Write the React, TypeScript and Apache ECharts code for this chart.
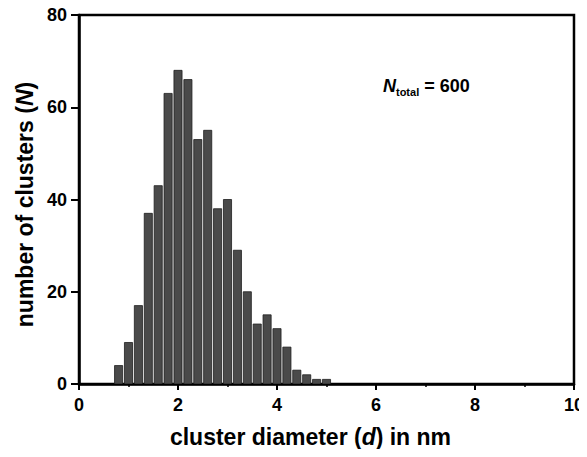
import React, { useEffect, useRef } from "react";
import * as echarts from "echarts";

// Bin centres (nm) and counts
const diameters = [0.8, 1.0, 1.2, 1.4, 1.6, 1.8, 2.0, 2.2, 2.4, 2.6, 2.8, 3.0, 3.2, 3.4, 3.6, 3.8, 4.0, 4.2, 4.4, 4.6, 4.8, 5.0];
const counts = [4, 9, 17, 37, 43, 63, 68, 66, 53, 55, 38, 40, 29, 20, 13, 15, 12, 8, 3, 2, 1, 1];
const xTicks = [0, 2, 4, 6, 8, 10];
const yTicks = [0, 20, 40, 60, 80];
const totalLabel = "600";

const FONT = '"Liberation Sans", Arial, Helvetica, sans-serif';
const HALF_BAR = 0.082;

export default function App() {
  const ref = useRef<HTMLDivElement>(null);
  useEffect(() => {
    if (!ref.current) return;
    const chart = echarts.init(ref.current, undefined, { renderer: "svg" });
    const data = diameters.map((d, i) => [d, counts[i]]);
    chart.setOption({
      animation: false,
      backgroundColor: "#fff",
      grid: {
        left: 79,
        right: 9,
        top: 15,
        bottom: 73,
        show: true,
        borderColor: "#000",
        borderWidth: 2.5,
        backgroundColor: "transparent",
      },
      xAxis: {
        type: "value",
        min: xTicks[0],
        max: xTicks[xTicks.length - 1],
        interval: 2,
        name: "{a|cluster diameter (}{b|d}{a|) in nm}",
        nameLocation: "middle",
        nameGap: 41,
        nameTextStyle: {
          padding: [0, 32, 0, 0],
          rich: {
            a: { fontFamily: FONT, fontWeight: "bold", fontSize: 23, color: "#000" },
            b: { fontFamily: FONT, fontWeight: "bold", fontStyle: "italic", fontSize: 23, color: "#000" },
          },
        },
        axisLine: { show: true, lineStyle: { color: "#000", width: 2.5 } },
        axisTick: { show: true, inside: false, length: 6, lineStyle: { color: "#000", width: 2 } },
        minorTick: { show: true, splitNumber: 2, length: 3, lineStyle: { color: "#000", width: 1.5 } },
        axisLabel: { margin: 12, fontFamily: FONT, fontWeight: "bold", fontSize: 18, color: "#000" },
        splitLine: { show: false },
      },
      yAxis: {
        type: "value",
        min: yTicks[0],
        max: yTicks[yTicks.length - 1],
        interval: 20,
        name: "{a|number of clusters (}{b|N}{a|)}",
        nameLocation: "middle",
        nameGap: 36,
        nameRotate: 90,
        nameTextStyle: {
          padding: [0, 10, 0, 0],
          rich: {
            a: { fontFamily: FONT, fontWeight: "bold", fontSize: 23, color: "#000" },
            b: { fontFamily: FONT, fontWeight: "bold", fontStyle: "italic", fontSize: 23, color: "#000" },
          },
        },
        axisLine: { show: true, lineStyle: { color: "#000", width: 2.5 } },
        axisTick: { show: true, inside: false, length: 8, lineStyle: { color: "#000", width: 2 } },
        axisLabel: { margin: 12, fontFamily: FONT, fontWeight: "bold", fontSize: 18, color: "#000" },
        splitLine: { show: false },
      },
      graphic: [
        {
          type: "text",
          left: 383,
          top: 77,
          style: {
            text: "{n|N}{s|total}{t| = " + totalLabel + "}",
            rich: {
              n: { fontFamily: FONT, fontWeight: "bold", fontStyle: "italic", fontSize: 18, lineHeight: 22, color: "#000" },
              s: { fontFamily: FONT, fontWeight: "bold", fontSize: 11, verticalAlign: "bottom", color: "#000" },
              t: { fontFamily: FONT, fontWeight: "bold", fontSize: 18, lineHeight: 22, color: "#000" },
            },
          },
        },
      ],
      series: [
        {
          type: "custom",
          data,
          clip: true,
          renderItem: (params: any, api: any) => {
            const x = api.value(0);
            const y = api.value(1);
            const p1 = api.coord([x - HALF_BAR, y]);
            const p0 = api.coord([x + HALF_BAR, 0]);
            return {
              type: "rect",
              shape: { x: p1[0], y: p1[1], width: p0[0] - p1[0], height: p0[1] - p1[1] },
              style: { fill: "#4a4a4a", stroke: "#1e1e1e", lineWidth: 0.8 },
            };
          },
        },
      ],
    });
    return () => chart.dispose();
  }, []);
  return <div ref={ref} style={{ width: 587, height: 457, margin: -8 }} />;
}
